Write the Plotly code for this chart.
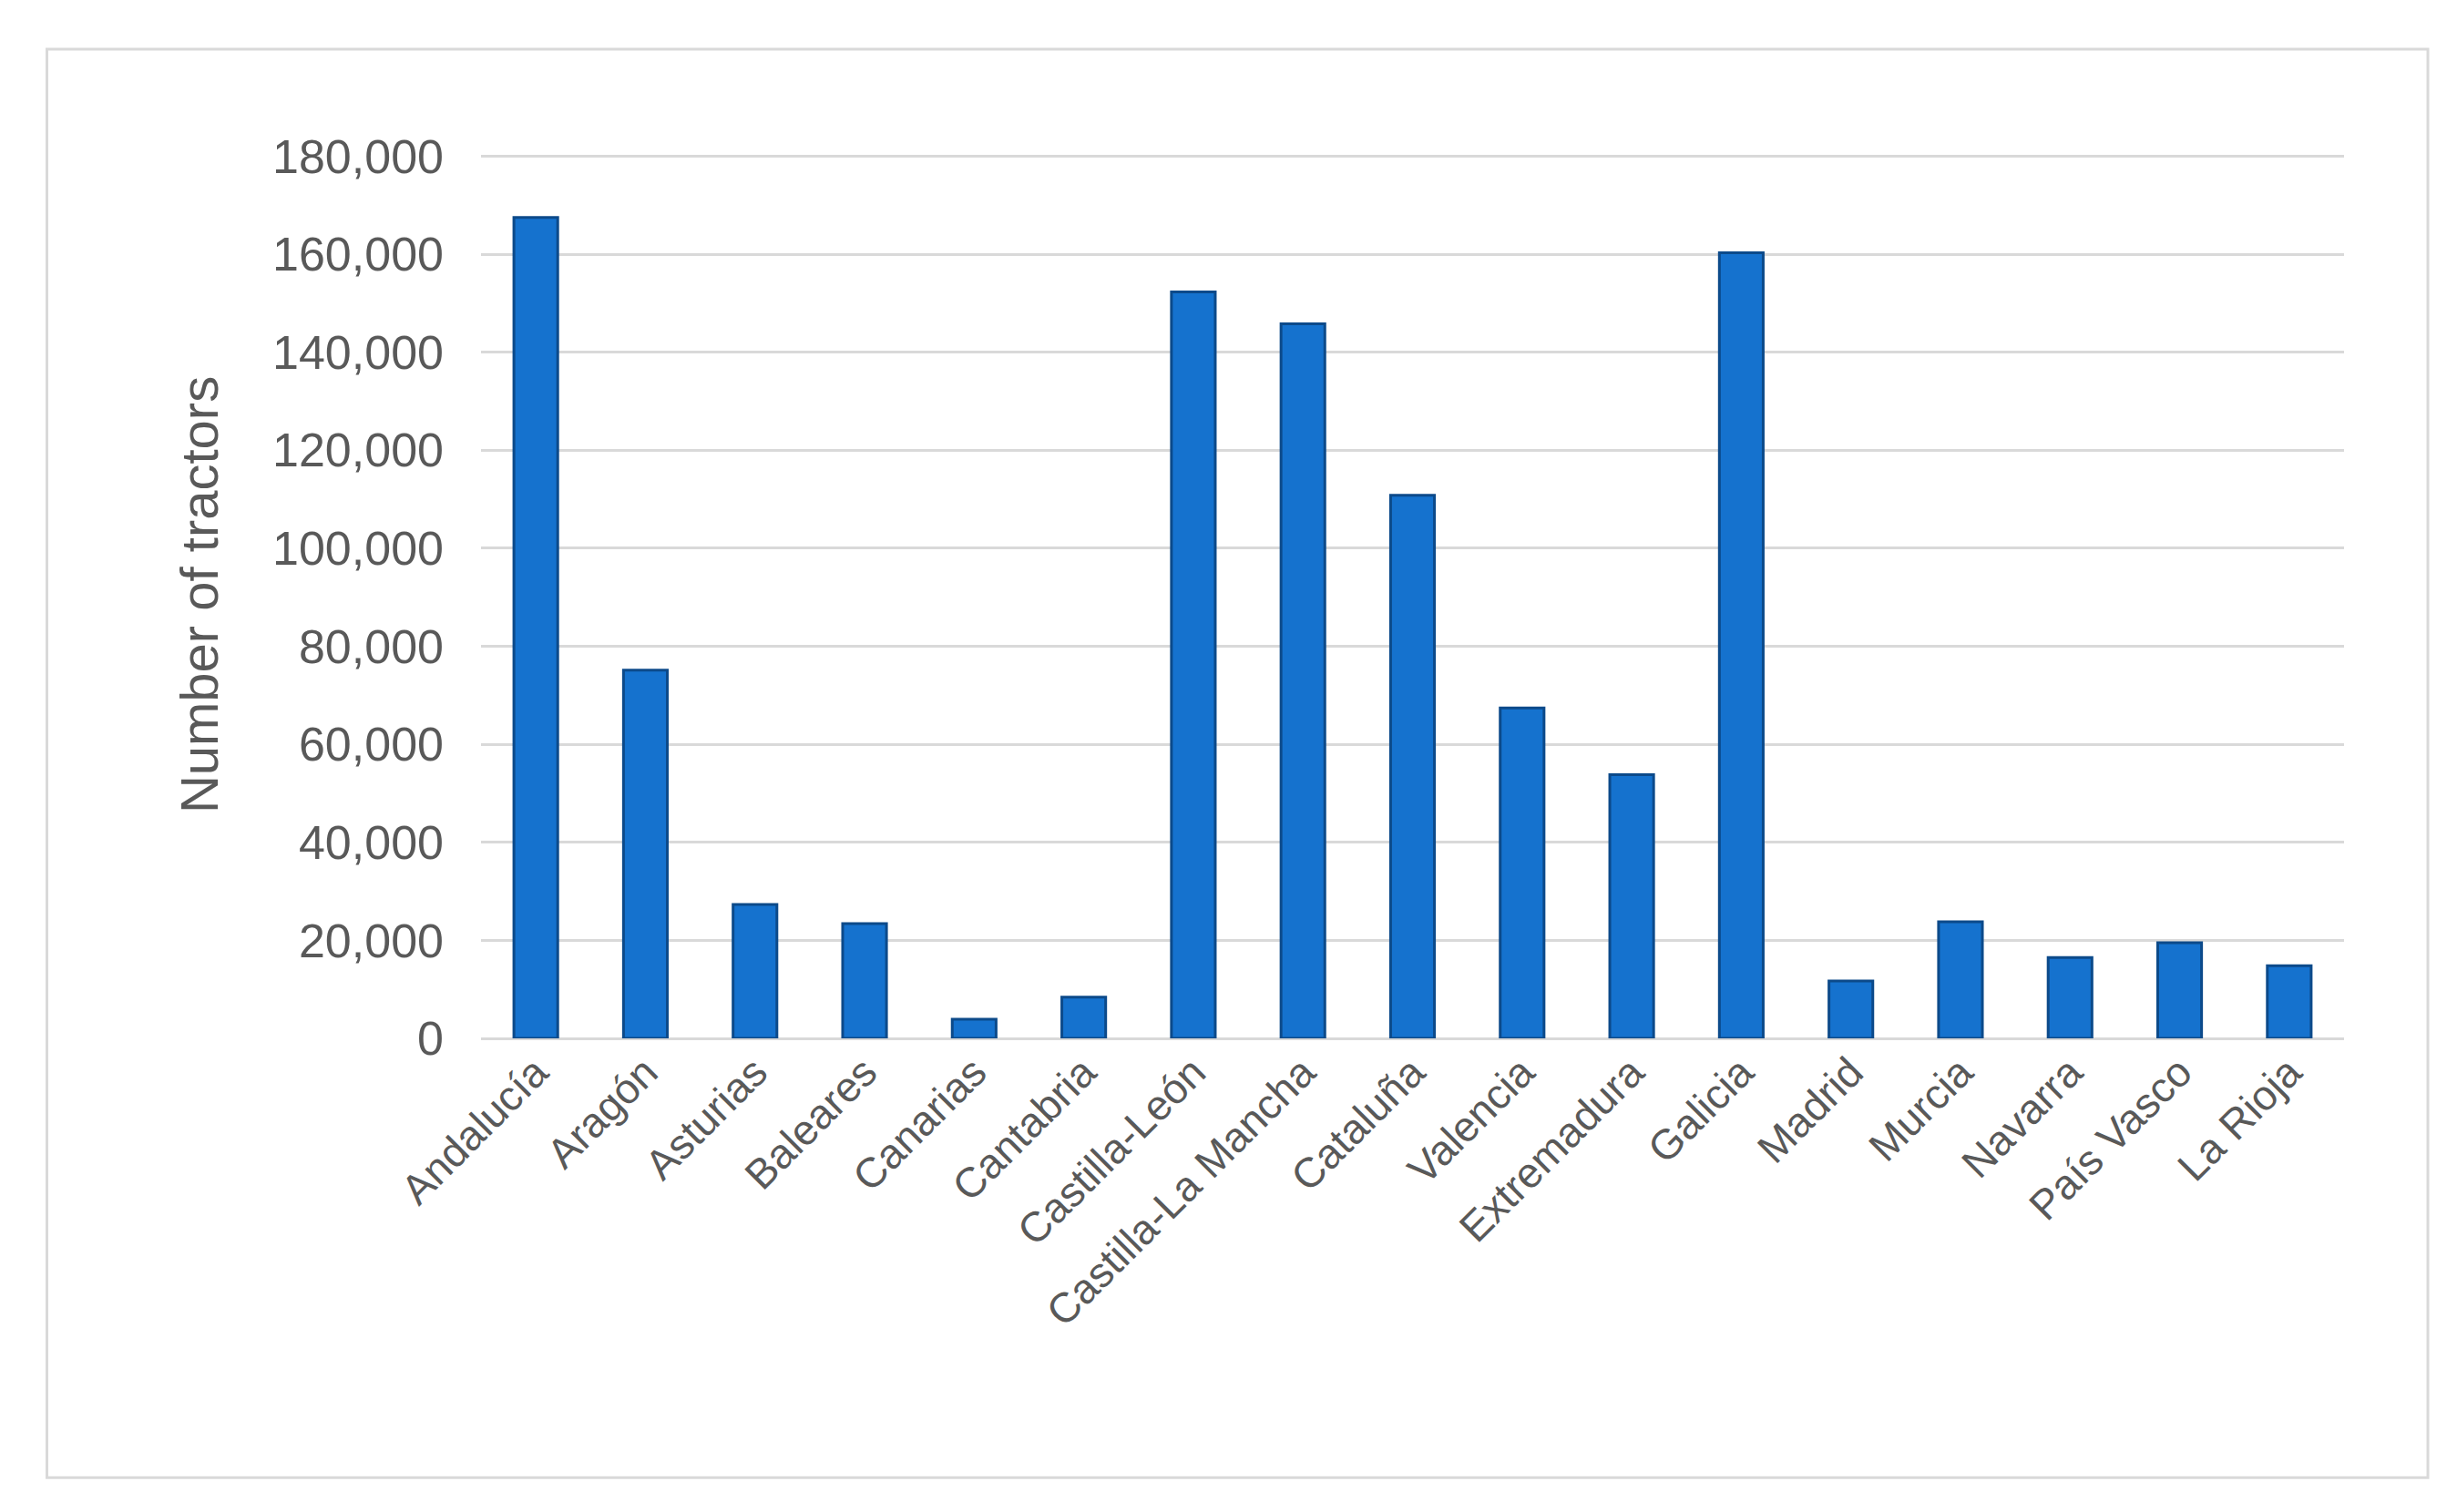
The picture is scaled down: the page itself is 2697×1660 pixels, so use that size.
import plotly.graph_objects as go

regions = ["Andalucía", "Aragón", "Asturias", "Baleares", "Canarias", "Cantabria",
           "Castilla-León", "Castilla-La Mancha", "Cataluña", "Valencia", "Extremadura",
           "Galicia", "Madrid", "Murcia", "Navarra", "País Vasco", "La Rioja"]
tractors = [167500, 75100, 27300, 23400, 3900, 8400, 152300, 145800, 110800, 67400,
            53800, 160300, 11700, 23800, 16500, 19500, 14800]
y_ticks = list(range(0, 180001, 20000))

font = "Liberation Sans"
grey = "#595959"

fig = go.Figure(go.Bar(
    x=regions, y=tractors, width=0.4,
    marker=dict(color="#1572CE", line=dict(color="#0C4A8A", width=3)),
))

fig.update_layout(
    width=2697, height=1660,
    paper_bgcolor="white", plot_bgcolor="white",
    margin=dict(l=520, r=132, t=158, b=528),
    showlegend=False,
    font=dict(family=font, color=grey),
    shapes=[dict(type="rect", xref="paper", yref="paper",
                 x0=-0.233, x1=1.045, y0=-0.495, y1=1.115,
                 line=dict(color="#D9D9D9", width=3))],
)
fig.update_xaxes(tickangle=-45, tickfont=dict(size=46, color=grey), showline=False,
                 ticks="")
fig.update_yaxes(range=[0, 181000], tickvals=y_ticks, tickformat=",",
                 tickfont=dict(size=52, color=grey), gridcolor="#D9D9D9", gridwidth=3,
                 zeroline=True, zerolinecolor="#D9D9D9", zerolinewidth=3,
                 ticklabelstandoff=40,
                 title=dict(text="Number of tractors", font=dict(size=58, color=grey),
                            standoff=40))

fig.write_html("out.html")
